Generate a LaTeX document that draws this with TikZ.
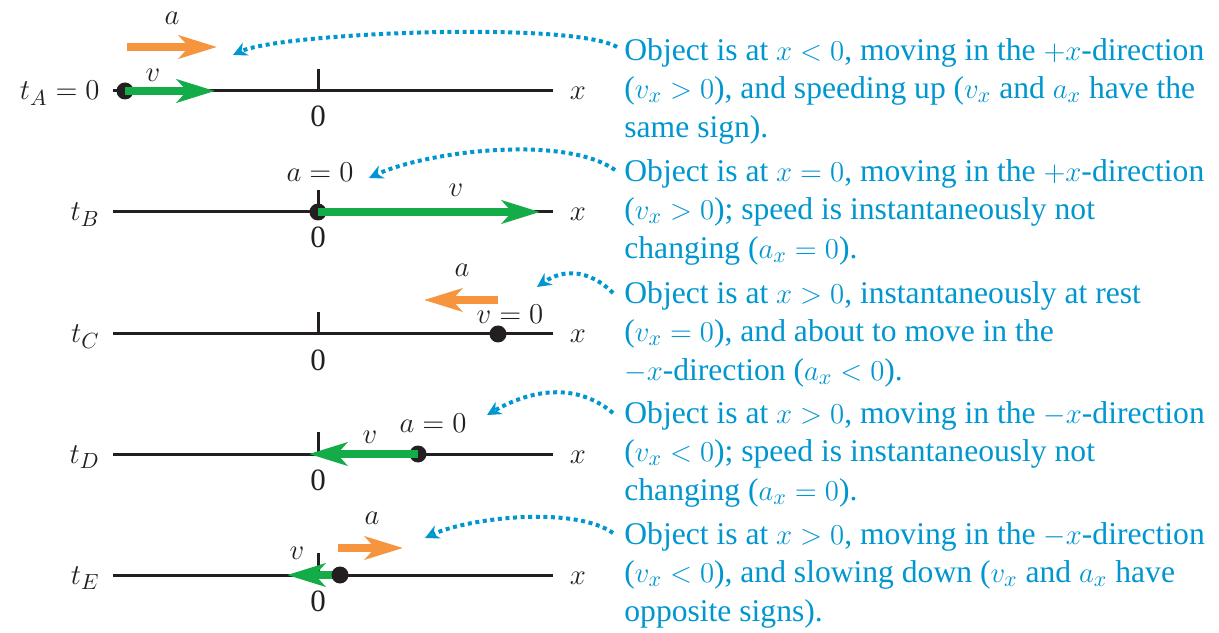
\documentclass[tikz,border=0pt]{standalone}
\usepackage{fontspec}
\setmainfont{Liberation Serif}
\usetikzlibrary{arrows.meta,positioning}
\definecolor{textBlue}{RGB}{0,150,208}
\definecolor{velGreen}{RGB}{20,172,72}
\definecolor{accOrange}{RGB}{247,148,62}
\definecolor{axisBlack}{RGB}{35,31,32}
\tikzset{
  axisline/.style={line width=1.5pt,axisBlack},
  tickline/.style={line width=1.5pt,axisBlack},
  dotpt/.style={circle,fill=axisBlack,inner sep=0pt,minimum size=8.5pt},
  vel/.style={-{Stealth[length=19pt,width=11.5pt,inset=5pt]},line width=4.3pt,velGreen},
  acc/.style={-{Stealth[length=19pt,width=11.5pt,inset=5pt]},line width=4.3pt,accOrange},
  lbl/.style={font=\fontsize{15.5}{18}\selectfont,inner sep=0pt,text=axisBlack},
  desc/.style={font=\fontsize{15.8}{19.25}\selectfont,text=textBlue,align=left,
               anchor=west,inner sep=0pt},
  callout/.style={-{Stealth[length=7pt,width=7pt]},textBlue,line width=2pt,
                  dash pattern=on 2pt off 1.8pt},
}

\begin{document}
\begin{tikzpicture}[x=0.5pt,y=0.5pt]
  \useasboundingbox (0,0) rectangle (1219,632);
  % axes, ticks, zero and x labels
  \foreach \r/\y in {A/541,B/420,C/298,D/178,E/57}{
    \coordinate (\r0) at (113,\y);
    \coordinate (\r1) at (553,\y);
    \draw[axisline] (\r0) -- (\r1);
    \draw[tickline] (318,\y) -- (318,\y+22);
    \node[lbl,anchor=base] (zero\r) at (318,\y-36) {0};
    \node[lbl,anchor=base] (x\r) at (578,\y-9) {$x$};
  }
  \node[lbl,anchor=base east] (tA) at (100,532) {$t_A=0$};
  \node[lbl,anchor=base east] (tB) at (100,411) {$t_B$};
  \node[lbl,anchor=base east] (tC) at (100,289) {$t_C$};
  \node[lbl,anchor=base east] (tD) at (100,169) {$t_D$};
  \node[lbl,anchor=base east] (tE) at (100,48) {$t_E$};

  % row A
  \node[dotpt] (dotA) at (125,541) {};
  \coordinate (vA) at (215,541);
  \draw[vel] (dotA.center) -- (vA);
  \node[lbl] (vlA) at (153,557) {$v$};
  \coordinate (aA0) at (127,585);
  \coordinate (aA1) at (217,585);
  \draw[acc] (aA0) -- (aA1);
  \node[lbl] (alA) at (172,614) {$a$};

  % row B
  \node[dotpt] (dotB) at (318,420) {};
  \coordinate (vB) at (540,420);
  \draw[vel] (dotB.center) -- (vB);
  \node[lbl] (vlB) at (456,442) {$v$};
  \node[lbl] (alB) at (320,460) {$a=0$};

  % row C
  \node[dotpt] (dotC) at (498,298) {};
  \node[lbl] (vlC) at (510,318) {$v=0$};
  \coordinate (aC0) at (498,332);
  \coordinate (aC1) at (424,332);
  \draw[acc] (aC0) -- (aC1);
  \node[lbl] (alC) at (462,362) {$a$};

  % row D
  \node[dotpt] (dotD) at (418,178) {};
  \coordinate (vD) at (309,178);
  \draw[vel] (dotD.center) -- (vD);
  \node[lbl] (vlD) at (370,195) {$v$};
  \node[lbl] (alD) at (433,209) {$a=0$};

  % row E
  \coordinate (vE) at (287,57);
  \draw[vel] (340,57) -- (vE);
  \node[dotpt] (dotE) at (340,57) {};
  \node[lbl] (vlE) at (297,79) {$v$};
  \coordinate (aE0) at (338,84);
  \coordinate (aE1) at (403,84);
  \draw[acc] (aE0) -- (aE1);
  \node[lbl] (alE) at (372,114) {$a$};

  % descriptions
  \node[desc] (descA) at (624,541) {Object is at $x<0$, moving in the $+x$-direction\\
    ($v_x>0$), and speeding up ($v_x$ and $a_x$ have the\\ same sign).};
  \node[desc] (descB) at (624,420) {Object is at $x=0$, moving in the $+x$-direction\\
    ($v_x>0$); speed is instantaneously not\\ changing ($a_x=0$).};
  \node[desc] (descC) at (624,298) {Object is at $x>0$, instantaneously at rest\\
    ($v_x=0$), and about to move in the\\ $-x$-direction ($a_x<0$).};
  \node[desc] (descD) at (624,178) {Object is at $x>0$, moving in the $-x$-direction\\
    ($v_x<0$); speed is instantaneously not\\ changing ($a_x=0$).};
  \node[desc] (descE) at (624,57) {Object is at $x>0$, moving in the $-x$-direction\\
    ($v_x<0$), and slowing down ($v_x$ and $a_x$ have\\ opposite signs).};

  % callouts
  \coordinate (cA) at (617,585); \coordinate (kA) at (233,577);
  \coordinate (cB) at (615,462); \coordinate (kB) at (369,454);
  \coordinate (cC) at (613,339); \coordinate (kC) at (537,345);
  \coordinate (cD) at (613,219); \coordinate (kD) at (487,217);
  \coordinate (cE) at (613,99);  \coordinate (kE) at (425,94);
  \draw[callout] (cA) to[out=150,in=25,looseness=0.35] (kA);
  \draw[callout] (cB) to[out=145,in=25,looseness=0.65] (kB);
  \draw[callout] (cC) to[out=135,in=35,looseness=1.1] (kC);
  \draw[callout] (cD) to[out=140,in=30,looseness=1] (kD);
  \draw[callout] (cE) to[out=145,in=25,looseness=0.65] (kE);
\end{tikzpicture}
\end{document}
